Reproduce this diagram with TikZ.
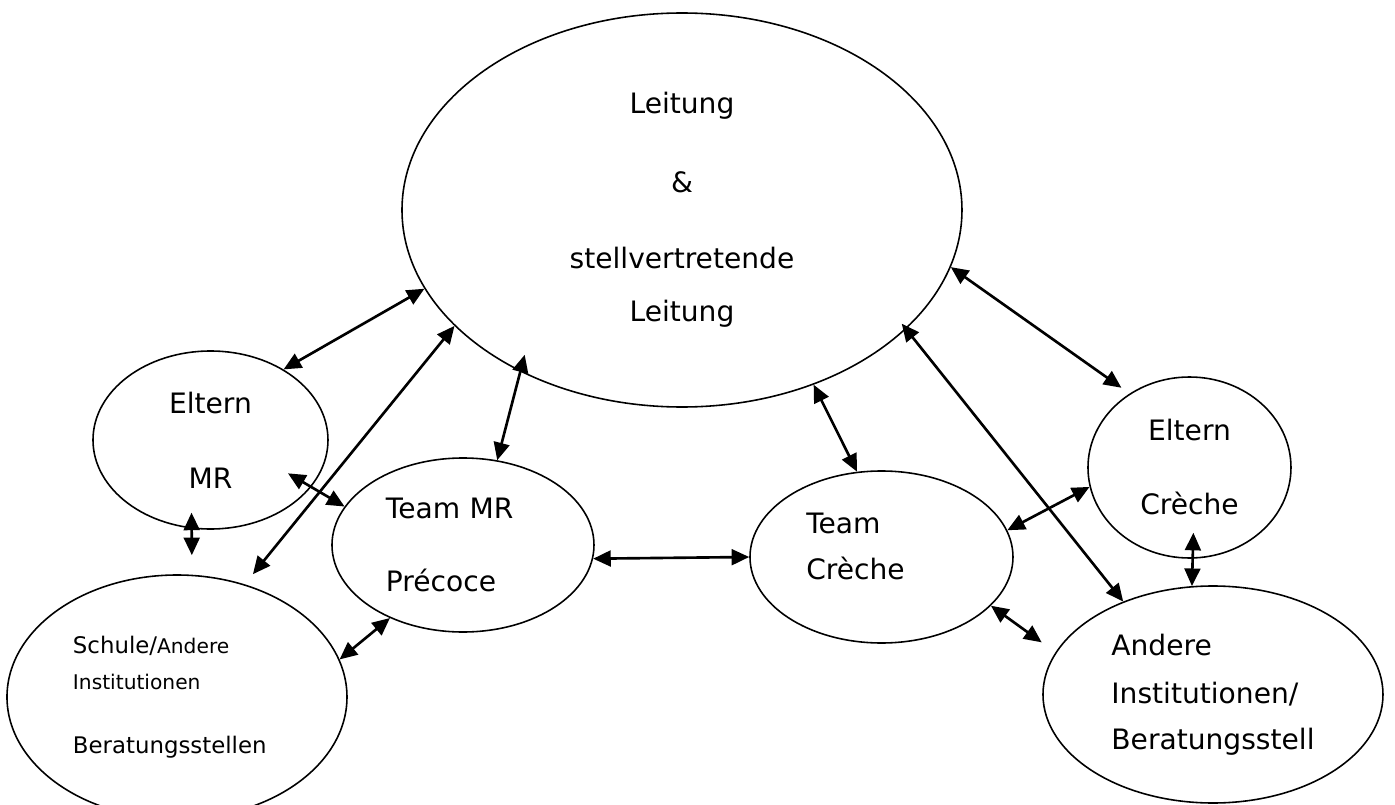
\documentclass[tikz,border=0pt]{standalone}
\usepackage{fontspec}
\setmainfont{DejaVu Sans}
\usetikzlibrary{arrows.meta,shapes.geometric}

\begin{document}
\begin{tikzpicture}[
  font=\fontsize{16}{19.2}\selectfont,
  bubble/.style={
    ellipse, draw=black, line width=0.9pt,
    inner sep=0pt, align=center
  },
  leftBubble/.style={
    bubble,
    align=left
  },
  link/.style={
    {Triangle[length=10pt,width=9pt]}-{Triangle[length=10pt,width=9pt]},
    line width=1.5pt
  }
]

% Text macro for the smaller words in the school node
\newcommand{\smallText}[1]{{\fontsize{11.5}{14}\selectfont #1}}

% Force 1395 x 805 frame, 50 px per cm
\path[use as bounding box, fill=white] (-13.95, -8.05) rectangle (13.95, 8.05);

% Central management
\node[bubble, minimum width=11.2cm, minimum height=7.88cm] (lead) at (-0.31, 3.85) {%
  Leitung\\[26pt]
  \&\\[23.5pt]
  stellvertretende\\[11.5pt]
  Leitung
};

% Parents MR (left)
\node[bubble, minimum width=4.7cm, minimum height=3.56cm] (emr) at (-9.74, -0.75) {%
  Eltern\\[23.5pt]
  MR
};

% Team MR
\node[leftBubble, text width=3.08cm, minimum width=5.24cm, minimum height=3.48cm] (tmr) at (-4.69, -2.85) {%
  Team MR\\[22.3pt]
  Précoce
};

% Team creche
\node[bubble, minimum width=5.26cm, minimum height=3.44cm,
  label={[align=left, xshift=-0.52cm, yshift=0.22cm]center:Team\\[7pt]Crèche}] (tc) at (3.68, -3.09) {};

% Parents creche (right)
\node[bubble, minimum width=4.06cm, minimum height=3.62cm] (ec) at (9.84, -1.30) {%
  Eltern\\[22.9pt]
  Crèche
};

% School and other institutions (bottom left)
\node[leftBubble, text width=4.16cm, minimum width=6.8cm, minimum height=4.88cm,
  font=\fontsize{13}{15.6}\selectfont] (sch) at (-10.41, -5.89) {%
  Schule/\smallText{Andere}\\[4.9pt]
  \smallText{Institutionen}\\[20.8pt]
  Beratungsstellen
};

% Other institutions (bottom right)
\node[leftBubble, minimum width=6.8cm, minimum height=4.34cm] (andere) at (10.31, -5.84) {%
  Andere\\[8pt]
  Institutionen/\\[7pt]
  Beratungsstell
};

% Management <-> every group
\draw[link] (lead.197) -- (emr.44);
\draw[link, shorten >=0.26cm] (lead.207) -- (sch.59);
\draw[link, shorten <=-0.35cm] (lead.225) -- (tmr.68);
\draw[link] (lead.307) -- (tc.106);
\draw[link, shorten >=0.2cm] (lead.348) -- (ec.129);
\draw[link, shorten <=-0.14cm] (lead.332) -- (andere.134);

% Links between neighbours
\draw[link, shorten <=-0.54cm] (emr.335) -- (tmr.162);
\draw[link, shorten <=-0.32cm, shorten >=0.39cm] (emr.258) -- (sch.83);
\draw[link] (sch.13) -- (tmr.225);
\draw[link] (tmr.354) -- (tc.180);
\draw[link] (tc.12) -- (ec.191);
\draw[link, shorten >=0.34cm] (tc.336) -- (andere.165);
\draw[link, shorten <=-0.52cm] (ec.272) -- (andere.101);

\end{tikzpicture}
\end{document}
